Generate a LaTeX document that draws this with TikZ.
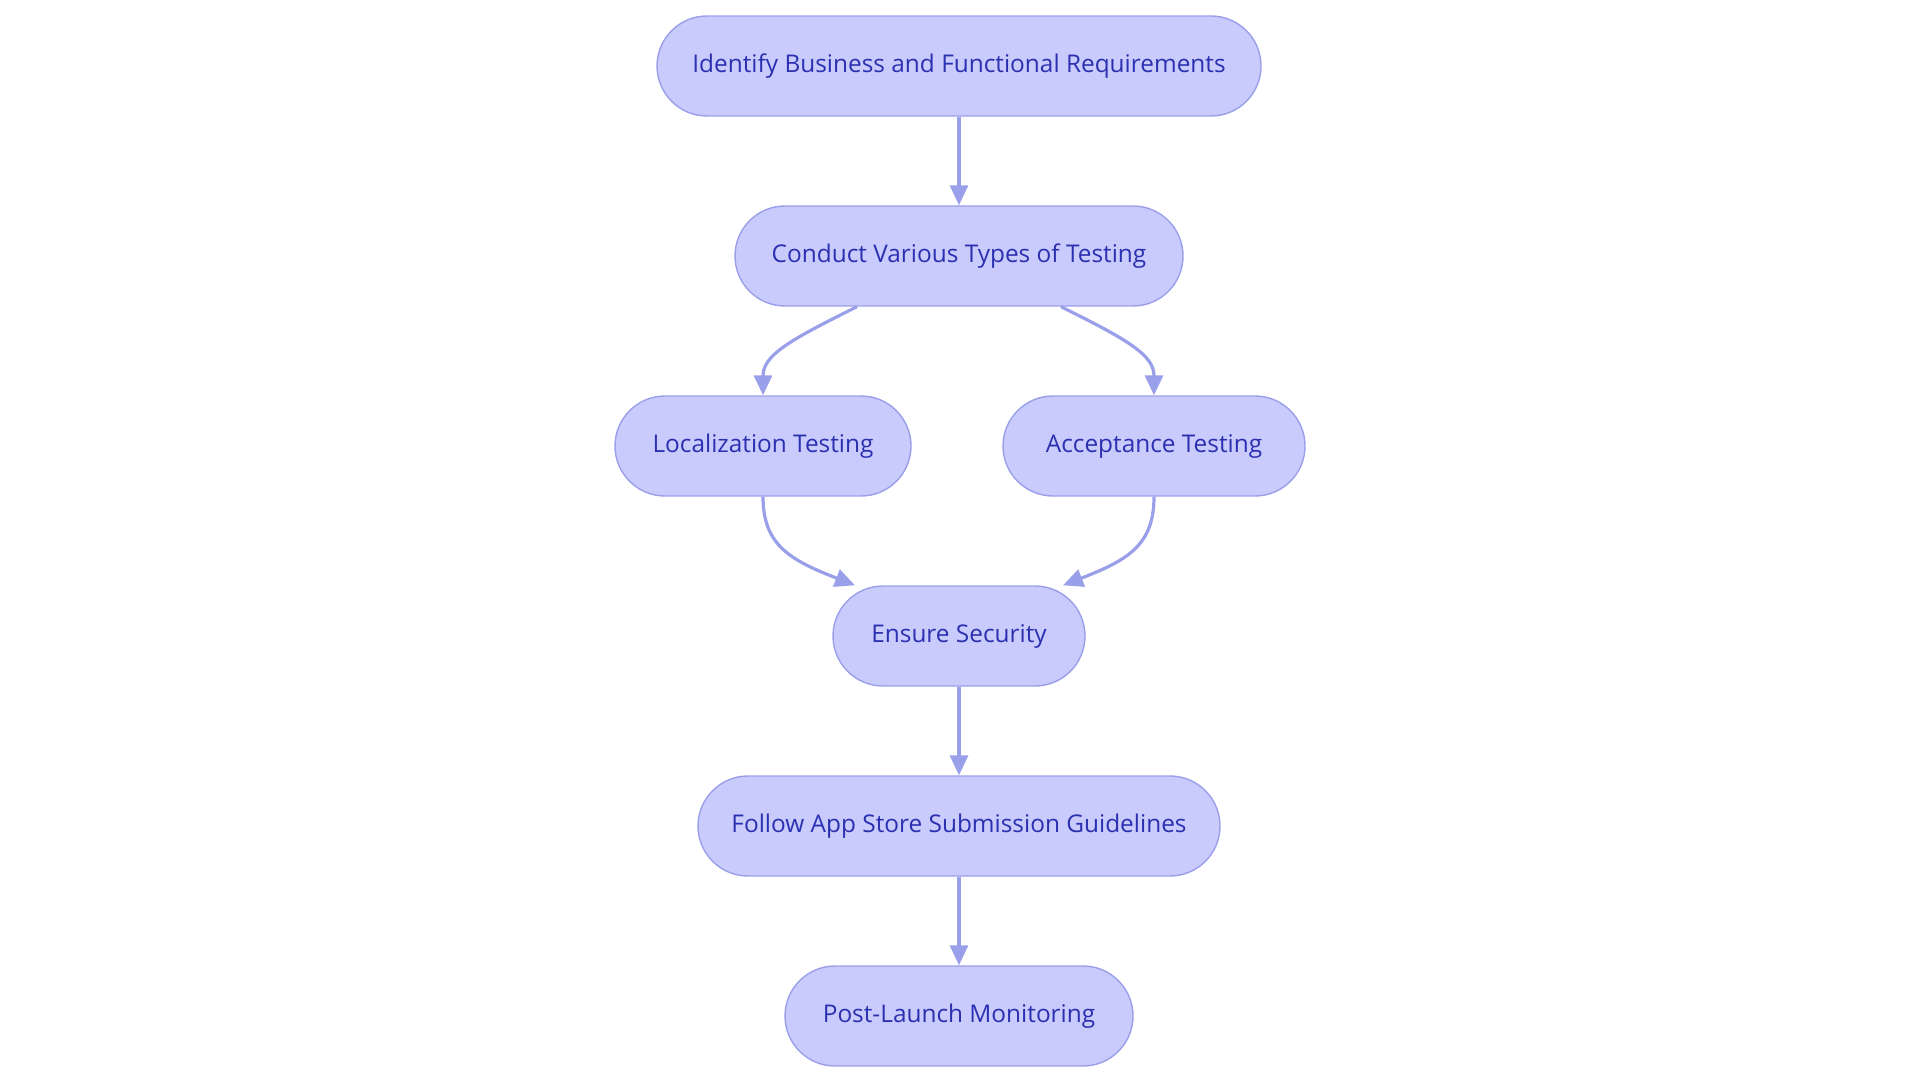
\documentclass[tikz,border=0pt]{standalone}
\usepackage{fontspec}
\setmainfont{Open Sans}
\usetikzlibrary{arrows.meta}
\definecolor{lilas}{HTML}{C9CBFC}
\definecolor{borda}{HTML}{9A9FEA}
\definecolor{texto}{HTML}{2B30B0}

\begin{document}
\begin{tikzpicture}[
    x=0.5pt, y=-0.5pt,
    etapa/.style={
        draw=borda,
        fill=lilas,
        line width=0.7pt,
        rounded corners=25pt,
        align=center,
        text=texto,
        font=\fontsize{12.2}{14}\selectfont,
        minimum height=50pt,
        inner sep=0pt
    },
    seta/.style={
        -{Triangle[length=10pt,width=9pt]},
        draw=borda,
        line width=1.6pt
    }
]

\useasboundingbox (0,0) rectangle (1920,1080);

\node[etapa, minimum width=302pt] (req) at (959,66)
{Identify Business and Functional Requirements};

\node[etapa, minimum width=224pt] (testes) at (959,256)
{Conduct Various Types of Testing};

\node[etapa, minimum width=148pt] (local) at (763,446)
{Localization Testing};

\node[etapa, minimum width=151pt] (aceite) at (1154,446)
{Acceptance Testing};

\node[etapa, minimum width=126pt] (seguranca) at (959,636)
{Ensure Security};

\node[etapa, minimum width=261pt] (loja) at (959,826)
{Follow App Store Submission Guidelines};

\node[etapa, minimum width=174pt] (monitor) at (959,1016)
{Post-Launch Monitoring};

\draw[seta] (req) -- (testes);

\draw[seta] ([xshift=-51pt]testes.south) .. controls (790,340) and (763,355) .. (local.north);

\draw[seta] ([xshift=51pt]testes.south) .. controls (1128,340) and (1154,355) .. (aceite.north);

\draw[seta] (local.south) .. controls (763,545) and (790,560) .. ([xshift=-52pt]seguranca.north);

\draw[seta] (aceite.south) .. controls (1154,545) and (1128,560) .. ([xshift=52pt]seguranca.north);

\draw[seta] (seguranca) -- (loja);

\draw[seta] (loja) -- (monitor);

\end{tikzpicture}
\end{document}
